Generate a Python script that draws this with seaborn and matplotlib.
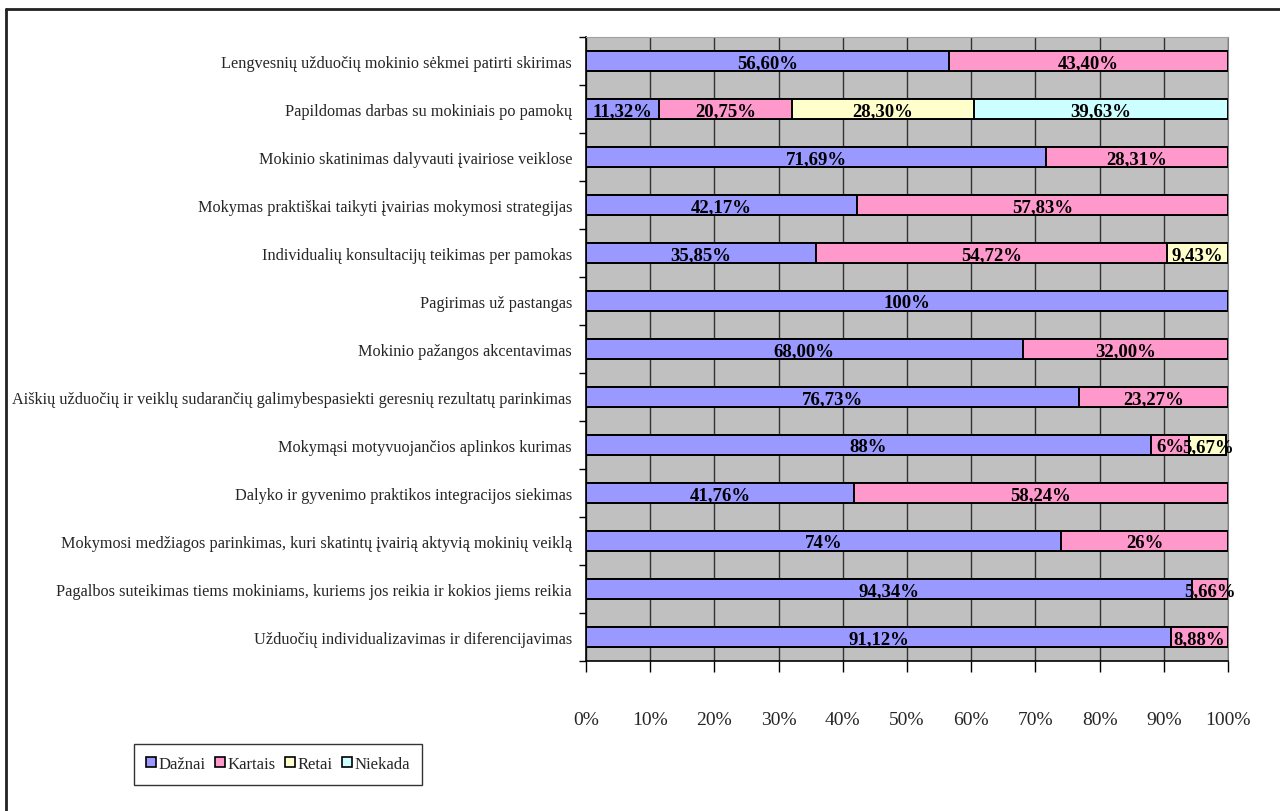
import pandas as pd
import numpy as np
import seaborn as sns
import matplotlib.pyplot as plt
from matplotlib.patches import Patch
from matplotlib.lines import Line2D

# Data (values as printed on the chart, comma decimals)
categories = [
    "Lengvesnių užduočių mokinio sėkmei patirti skirimas",
    "Papildomas darbas su mokiniais po pamokų",
    "Mokinio skatinimas dalyvauti įvairiose veiklose",
    "Mokymas praktiškai taikyti įvairias mokymosi strategijas",
    "Individualių konsultacijų teikimas per pamokas",
    "Pagirimas už pastangas",
    "Mokinio pažangos akcentavimas",
    "Aiškių užduočių ir veiklų sudarančių galimybespasiekti geresnių rezultatų parinkimas",
    "Mokymąsi motyvuojančios aplinkos kurimas",
    "Dalyko ir gyvenimo praktikos integracijos siekimas",
    "Mokymosi medžiagos parinkimas, kuri skatintų įvairią aktyvią mokinių veiklą",
    "Pagalbos suteikimas tiems mokiniams, kuriems jos reikia ir kokios jiems reikia",
    "Užduočių individualizavimas ir diferencijavimas",
]
daznai = ["56,60", "11,32", "71,69", "42,17", "35,85", "100", "68,00", "76,73", "88", "41,76", "74", "94,34", "91,12"]
kartais = ["43,40", "20,75", "28,31", "57,83", "54,72", "", "32,00", "23,27", "6", "58,24", "26", "5,66", "8,88"]
retai = ["", "28,30", "", "", "9,43", "", "", "", "5,67", "", "", "", ""]
niekada = ["", "39,63", "", "", "", "", "", "", "", "", "", "", ""]

series = ["Dažnai", "Kartais", "Retai", "Niekada"]
colors = ["#9999FF", "#FF99CC", "#FFFFCC", "#CCFFFF"]
x_ticks = list(range(0, 101, 10))

def to_num(s):
    return float(s.replace(",", ".")) if s else 0.0

raw = dict(zip(series, [daznai, kartais, retai, niekada]))
df = pd.DataFrame({s: [to_num(v) for v in raw[s]] for s in series})
df["Kategorija"] = categories
cum = df[series].cumsum(axis=1)

sns.set_style("white")
plt.rcParams["font.family"] = ["Liberation Serif", "DejaVu Serif"]

fig = plt.figure(figsize=(12.8, 8.12), dpi=100)
ax = fig.add_axes([586 / 1280, 1 - 662 / 812, 642 / 1280, 624 / 812])
ax.set_facecolor("#C0C0C0")

# stacked bars: draw cumulative totals from the last series to the first
for s, c in reversed(list(zip(series, colors))):
    sns.barplot(x=cum[s], y=df["Kategorija"], color=c, saturation=1,
                edgecolor="black", linewidth=1.4, width=0.42,
                orient="h", errorbar=None, ax=ax)

# value labels
for i in range(len(categories)):
    for s in series:
        txt = raw[s][i]
        if not txt:
            continue
        xc = cum[s][i] - df[s][i] / 2
        ax.text(xc, i + 0.04, txt + "%", ha="center", va="center",
                fontsize=13.5, fontweight="bold", color="black")

ax.set_xlim(0, 100)
ax.set_ylim(len(categories) - 0.5, -0.5)
ax.set_xticks(x_ticks, [f"{t}%" for t in x_ticks])
ax.set_yticks(range(len(categories)), categories)
ax.set_yticks(np.arange(-0.5, len(categories), 1), minor=True)
ax.set_xlabel("")
ax.set_ylabel("")

ax.set_axisbelow(True)
ax.xaxis.grid(True, color="#333333", linewidth=1)
ax.yaxis.grid(False)

ax.tick_params(axis="y", which="major", length=0, pad=10, labelsize=11.7)
ax.tick_params(axis="y", which="minor", length=5, width=1, color="black", direction="out", left=True)
ax.tick_params(axis="x", length=8, width=1, color="black", direction="out", bottom=True,
               pad=28, labelsize=14)

for side in ["left", "bottom"]:
    ax.spines[side].set_color("black")
    ax.spines[side].set_linewidth(1.2)
ax.spines["top"].set_color("#A0A0A0")
ax.spines["right"].set_color("#808080")

handles = [Patch(facecolor=c, edgecolor="black", linewidth=1.2) for c in colors]
fig.legend(handles, series, loc="center", bbox_to_anchor=(278 / 1280, 1 - 765 / 812),
           ncol=4, frameon=True, fancybox=False, edgecolor="black", fontsize=12,
           handlelength=0.6, handleheight=0.6, handletextpad=0.15, columnspacing=0.55,
           borderpad=0.75, borderaxespad=0)
fig.legends[0].get_frame().set_linewidth(1)

# outer chart frame (left and top edges visible)
fig.add_artist(Line2D([6 / 1280, 6 / 1280], [0, 1 - 10 / 812], color="#222222", linewidth=2))
fig.add_artist(Line2D([6 / 1280, 1], [1 - 10 / 812, 1 - 10 / 812], color="#222222", linewidth=2))

fig.savefig("out.png", dpi=100)
